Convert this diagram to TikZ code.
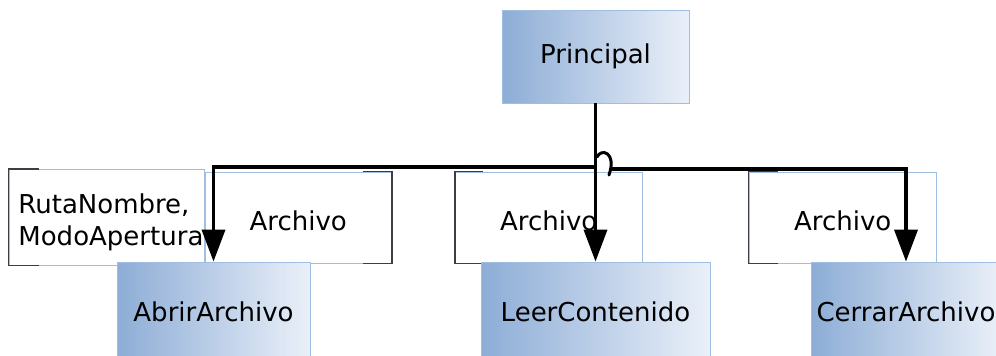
\documentclass[tikz,border=0pt]{standalone}
\usepackage{fontspec}
\setmainfont{DejaVu Sans}
\usetikzlibrary{arrows.meta}
\definecolor{shadeL}{RGB}{141,173,214}
\definecolor{shadeR}{RGB}{234,240,249}
\definecolor{edgeblue}{RGB}{160,190,225}
\definecolor{bracketgray}{RGB}{60,62,70}
\tikzset{
  procbox/.style={draw=edgeblue, line width=0.8pt, left color=shadeL, right color=shadeR,
    inner sep=0pt, font=\fontsize{26}{31}\selectfont, text=black},
  databox/.style={draw=edgeblue, line width=0.8pt, fill=white, inner sep=0pt,
    font=\fontsize{26}{32}\selectfont, align=center, text=black},
  lowtext/.style={text height=25pt, text depth=0pt},
  bracket/.style={draw=bracketgray, line width=1.3pt},
  conn/.style={draw=black, line width=3.7pt},
  callarrow/.style={conn, -{Triangle[width=23pt,length=32pt]}}
}
\begin{document}
\begin{tikzpicture}[x=1pt, y=-1pt]
\useasboundingbox (0,0) rectangle (996,356);

% data couples passed with each call
\node[databox, minimum width=195pt, minimum height=95.5pt] (dRuta) at (106.5,217.25) {};
\begin{scope}
  \clip (dRuta.north west) rectangle (dRuta.south east);
  \node[databox, draw=none, fill=none, align=left, anchor=west, text depth=0pt] (dRutaText) at (18,220) {RutaNombre,\\ModoApertura};
\end{scope}
\node[databox, lowtext, minimum width=186.5pt, minimum height=91pt] (dArchA) at (298.25,217.5) {Archivo};
\node[databox, lowtext, minimum width=186.5pt, minimum height=91pt] (dArchB) at (548.75,217.5) {Archivo};
\node[databox, lowtext, minimum width=187.5pt, minimum height=91pt] (dArchC) at (842.75,217.5) {Archivo};

% dark brackets on the data boxes
\draw[bracket] ([xshift=30pt]dRuta.north west) -- (dRuta.north west) -- (dRuta.south west) -- ([xshift=30pt]dRuta.south west);
\draw[bracket] ([xshift=-29pt]dArchA.north east) -- (dArchA.north east) -- (dArchA.south east) -- ([xshift=-29pt]dArchA.south east);
\draw[bracket] ([xshift=28pt]dArchB.north west) -- (dArchB.north west) -- (dArchB.south west) -- ([xshift=28pt]dArchB.south west);
\draw[bracket] ([xshift=29pt]dArchC.north west) -- (dArchC.north west) -- (dArchC.south west) -- ([xshift=29pt]dArchC.south west);

% modules
\node[procbox, minimum width=187pt, minimum height=93pt] (principal) at (595.5,56.5) {Principal};
\node[procbox, lowtext, minimum width=193pt, minimum height=94pt] (abrir) at (213.5,309) {AbrirArchivo};
\node[procbox, lowtext, minimum width=229pt, minimum height=94pt] (leer) at (595.5,309) {LeerContenido};
\node[procbox, lowtext, minimum width=190pt, minimum height=94pt] (cerrar) at (906,309) {CerrarArchivo};

% calls from the main module
\coordinate (elbowL) at (595.5,167);
\draw[callarrow] (principal.south) -- (elbowL) -| (abrir.north);
\draw[callarrow] (principal.south) -- (leer.north);

% line jump over the middle call, then on to the right module
\coordinate (hopA) at (597,157);
\coordinate (hopB) at (609,175);
\coordinate (hopC) at (610,169);
\draw[draw=black, line width=3pt, line cap=round] (hopA) .. controls (601,148) and (617,152) .. (hopB);
\draw[callarrow] (hopC) -- (hopC -| cerrar.north) -- (cerrar.north);
\end{tikzpicture}
\end{document}
